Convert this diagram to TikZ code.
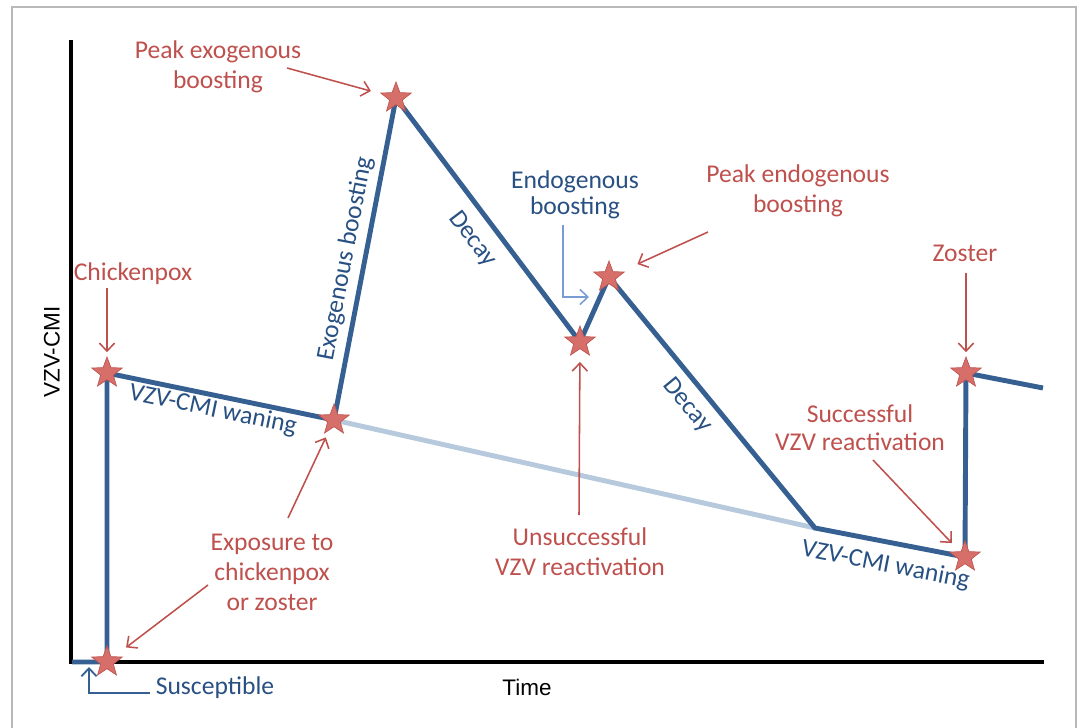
\documentclass[tikz,border=0pt]{standalone}
\usepackage{fontspec}
\setmainfont{Carlito}
\newfontfamily\axisfont{Liberation Sans}
\usetikzlibrary{arrows.meta,shapes.geometric}
\definecolor{curveblue}{RGB}{55,96,146}
\definecolor{phaseblue}{RGB}{40,80,130}
\definecolor{fadeblue}{RGB}{183,201,220}
\definecolor{endoblue}{RGB}{120,156,212}
\definecolor{notered}{RGB}{190,80,77}
\definecolor{starfill}{RGB}{214,110,105}
\definecolor{stardraw}{RGB}{192,86,82}
\tikzset{
  curve/.style={curveblue, line width=3.5pt},
  fade/.style={fadeblue, line width=3.5pt},
  event/.style={star, star points=5, star point ratio=2.4, minimum size=0.8cm,
    inner sep=0pt, fill=starfill, draw=stardraw, line width=0.5pt},
  note/.style={text=notered, align=center, font=\fontsize{18.2}{21.3}\selectfont},
  phase/.style={text=phaseblue, align=center, font=\fontsize{18.2}{21.3}\selectfont},
  axislabel/.style={font=\axisfont\fontsize{16}{19}\selectfont},
  pointer/.style={notered, line width=1.1pt, -{Straight Barb[length=2mm,width=3.8mm]}},
}
\begin{document}
\begin{tikzpicture}[x=0.025cm,y=-0.025cm]
\useasboundingbox (0,0) rectangle (1080,728);
\draw[gray!55, line width=0.8pt] (12,728) -- (12,7) -- (1076,7) -- (1076,728);

% axes
\draw[line width=2.2pt] (71,40) -- (71,662) -- (1044,662);
\node[axislabel, rotate=90] (ylab) at (52,352) {VZV-CMI};
\node[axislabel] (xlab) at (527,687) {Time};

% course of VZV-CMI
\coordinate (orig) at (72,662);
\coordinate (sus) at (107,662);
\coordinate (chk) at (107,373);
\coordinate (exp) at (334,420);
\coordinate (pex) at (396,98);
\coordinate (uns) at (580,342);
\coordinate (pen) at (609,277);
\coordinate (low) at (815,528);
\coordinate (suc) at (965,557);
\coordinate (zos) at (966,373);
\coordinate (tail) at (1043,388);

\draw[fade] (exp) -- (low);
\draw[curve] (orig) -- (sus) -- (chk)
  -- node[phase, sloped, below, pos=0.48, inner sep=1pt] {VZV-CMI waning} (exp)
  -- node[phase, sloped, above, pos=0.49, inner sep=4pt] {Exogenous boosting} (pex)
  -- node[phase, sloped, below, pos=0.52, inner sep=8pt] {Decay} (uns)
  -- (pen)
  -- node[phase, sloped, below, pos=0.46, inner sep=6pt] {Decay} (low)
  -- node[phase, sloped, below, pos=0.5, inner sep=7pt] {VZV-CMI waning} (suc)
  -- (zos) -- (tail);

\foreach \p in {sus,chk,exp,pex,uns,pen,suc,zos}
  \node[event] (s-\p) at (\p) {};

% labels
\node[note] (lpex) at (218,67) {Peak exogenous\\boosting};
\node[note] (lchk) at (133,274) {Chickenpox};
\node[note] (lexp) at (272,572) {Exposure to\\chickenpox\\or zoster};
\node[phase] (lsus) at (215,688) {Susceptible};
\node[phase, font=\fontsize{18.2}{18.6}\selectfont] (lendo) at (575,195) {Endogenous\\boosting};
\node[note] (lpen) at (798,191) {Peak endogenous\\boosting};
\node[note] (luns) at (580,552) {Unsuccessful\\VZV reactivation};
\node[note] (lzos) at (965,253) {Zoster};
\node[note, font=\fontsize{18.2}{19.8}\selectfont] (lsuc) at (860,428) {Successful\\VZV reactivation};

% pointers
\coordinate (t-pex) at (287,68);
\coordinate (t-chk) at (107,288);
\coordinate (t-exp) at (288,518);
\coordinate (t-sus) at (208,585);
\coordinate (t-pen) at (708,232);
\coordinate (t-uns) at (579,515);
\coordinate (t-zos) at (966,273);
\coordinate (t-suc) at (873,460);
\draw[pointer, shorten >=6.5mm] (t-pex) -- (pex);
\draw[pointer, shorten >=5.2mm] (t-chk) -- (chk);
\draw[pointer, shorten >=4.8mm] (t-exp) -- (exp);
\draw[pointer, shorten >=6mm] (t-sus) -- (sus);
\draw[pointer, shorten >=7.8mm] (t-pen) -- (pen);
\draw[pointer, shorten >=5mm] (t-uns) -- (uns);
\draw[pointer, shorten >=5.2mm] (t-zos) -- (zos);
\draw[pointer, shorten >=4.8mm] (t-suc) -- (suc);

\coordinate (e1) at (563,225);
\coordinate (e2) at (589,297);
\draw[endoblue, line width=1.1pt, -{Straight Barb[length=2mm,width=3.8mm]}] (e1) |- (e2);
\coordinate (b1) at (150,693);
\coordinate (b2) at (89,667);
\draw[curveblue, line width=1.3pt, -{Straight Barb[length=2mm,width=3.8mm]}] (b1) -| (b2);
\end{tikzpicture}
\end{document}
